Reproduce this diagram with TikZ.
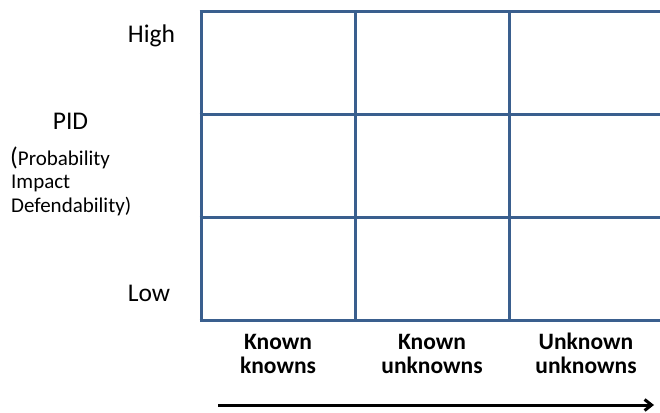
\documentclass[tikz,border=0pt]{standalone}
\usepackage{fontspec}
\setmainfont{Carlito}
\usetikzlibrary{arrows.meta}
\definecolor{gridblue}{HTML}{3A5F8E}
\begin{document}
\begin{tikzpicture}[x=1pt,y=-1pt,
  gridline/.style={draw=gridblue,line width=3pt},
  biglbl/.style={inner sep=0pt,anchor=base,font=\fontsize{25.5}{30}\selectfont},
  smalllbl/.style={inner sep=0pt,anchor=base west,font=\fontsize{21}{24}\selectfont},
  collbl/.style={inner sep=0pt,anchor=base,font=\fontsize{23.5}{26}\selectfont\bfseries}]
\useasboundingbox (0,0) rectangle (660,412);
\begin{scope}
  \clip (0,0) rectangle (660,412);
  \foreach \yy in {12,114,217,320} \draw[gridline] (199.5,\yy) -- (670,\yy);
  \foreach \xx in {201,355,509} \draw[gridline] (\xx,10.5) -- (\xx,321.5);
\end{scope}
\node[biglbl] (high) at (151.5,43) {High};
\node[biglbl] (low) at (149,301) {Low};
\node[biglbl] (pid) at (70.5,129) {PID};
\node[smalllbl] (prob) at (10,165) {{\fontsize{25.5}{30}\selectfont(}Probability};
\node[smalllbl] (imp) at (11,188) {Impact};
\node[smalllbl] (def) at (11,212) {Defendability)};
\node[collbl] (c1a) at (278,349) {Known};
\node[collbl] (c1b) at (278,373) {knowns};
\node[collbl] (c2a) at (432,349) {Known};
\node[collbl] (c2b) at (432,373) {unknowns};
\node[collbl] (c3a) at (586,349) {Unknown};
\node[collbl] (c3b) at (586,373) {unknowns};
\coordinate (as) at (218,405);
\coordinate (ae) at (654,405);
\draw[line width=3pt,-{Straight Barb[length=7pt,width=11pt]}] (as) -- (ae);
\end{tikzpicture}
\end{document}
